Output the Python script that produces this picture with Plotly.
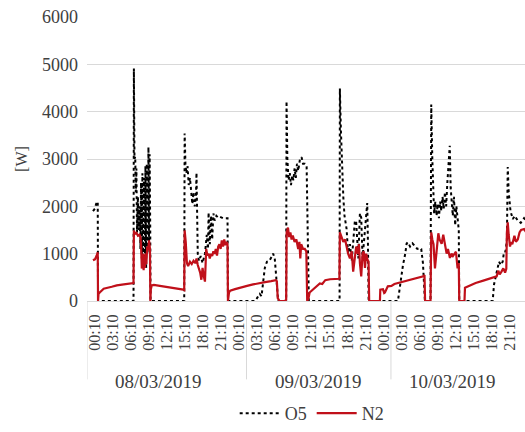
import plotly.graph_objects as go

# ---- data (hours since 08/03/2019 00:00, power in W) ----
n2_time = [-0.12, 0.2, 0.5, 0.67, 0.72, 0.8, 1.0, 1.66, 3.0, 3.83, 5.0, 6.32, 6.62, 6.68, 6.85, 7.1, 7.35, 7.6, 7.77, 7.87,
           8.0, 8.1, 8.2, 8.3, 8.4, 8.5, 8.6, 8.75, 8.9, 9.05, 9.2, 9.35, 9.42, 9.5, 9.65, 10.0, 11.0, 12.0, 13.0, 14.0,
           14.9, 15.05, 15.12, 15.3, 15.5, 15.7, 16.0, 16.3, 16.6, 16.9, 17.1, 17.3, 17.5, 17.7, 17.9, 18.1, 18.3, 18.5,
           18.7, 18.9, 19.1, 19.3, 19.5, 19.7, 19.9, 20.1, 20.3, 20.5, 20.7, 20.9, 21.1, 21.3, 21.5, 21.7, 21.9, 22.1,
           22.25, 22.32, 22.5, 22.7, 23.5, 24.5, 25.5, 26.5, 27.5, 28.5, 29.5, 30.3, 30.45, 30.6, 30.9, 31.8, 32.0, 32.08,
           32.3, 32.5, 32.7, 32.9, 33.1, 33.4, 33.7, 34.0, 34.2, 34.35, 34.5, 34.8, 35.1, 35.35, 35.5, 35.7, 35.9, 36.5,
           37.0, 37.6, 38.0, 38.5, 39.3, 40.0, 40.6, 40.85, 40.93, 41.2, 41.5, 41.8, 42.05, 42.3, 42.6, 42.9, 43.14, 43.4,
           43.64, 43.9, 44.1, 44.26, 44.48, 44.7, 44.9, 45.1, 45.3, 45.5, 45.7, 45.8, 47.59, 47.65, 48.09, 48.3, 48.42,
           48.9, 49.5, 50.0, 51.0, 52.0, 53.0, 54.0, 54.8, 55.0, 55.1, 56.0, 56.12, 56.3, 56.5, 56.74, 57.0, 57.3, 57.5,
           57.85, 58.12, 58.4, 58.68, 58.9, 59.23, 59.5, 59.73, 60.0, 60.23, 60.5, 60.7, 60.78, 61.65, 61.73, 62.56, 63.5,
           64.78, 66.0, 66.72, 67.0, 67.27, 67.5, 67.8, 68.1, 68.4, 68.6, 68.7, 68.84, 69.0, 69.22, 69.39, 69.6, 69.95,
           70.2, 70.51, 70.8, 71.06, 71.56, 71.9]
n2_watts = [860, 880, 960, 1030, 0, 150, 180, 260, 300, 330, 350, 370, 380, 1490, 1420, 1440, 1380, 1400, 1350, 1200,
            690, 720, 1000, 650, 900, 700, 1000, 780, 1150, 1070, 1280, 1100, 0, 250, 330, 340, 320, 300, 290, 270,
            240, 230, 1490, 1250, 800, 740, 830, 780, 850, 800, 900, 760, 700, 600, 450, 700, 520, 410,
            1100, 960, 1000, 900, 1000, 950, 1050, 1000, 1100, 960, 1150, 1200, 1100, 1280, 1150, 1300, 1180, 1250,
            1200, 0, 180, 220, 250, 290, 320, 350, 380, 400, 420, 440, 420, 60, 0, 0, 30, 1450,
            1550, 1350, 1450, 1300, 1380, 1250, 1300, 1100, 1250, 900, 1200, 1100, 1100, 1050, 0, 50, 180, 250,
            300, 370, 360, 440, 460, 470, 480, 470, 1450, 1350, 1250, 1300, 1150, 1000, 900, 1050, 620, 900,
            1150, 1000, 1200, 800, 520, 1000, 1050, 700, 1000, 880, 830, 0, 0, 240, 250, 170, 180,
            310, 320, 360, 390, 420, 450, 480, 520, 550, 0, 0, 1450, 1300, 1200, 690, 1000, 1430, 1300,
            1210, 1400, 1150, 1000, 1100, 910, 1000, 950, 1000, 1040, 690, 800, 0, 0, 280, 330, 380,
            430, 480, 500, 520, 640, 560, 620, 690, 600, 680, 1450, 1660, 1400, 1150, 1245, 1200, 1380,
            1250, 1300, 1450, 1500, 1520, 1450]

o5_time = [-0.12, 0.2, 0.4, 0.67, 0.72, 6.62, 6.68, 6.78, 6.9, 7.0, 7.1, 7.2, 7.35, 7.5, 7.6, 7.77, 7.87, 8.0, 8.1, 8.2,
           8.35, 8.5, 8.6, 8.72, 8.82, 8.95, 9.1, 9.2, 9.3, 9.4, 9.45, 15.05, 15.12, 15.25, 15.4, 15.6, 15.8, 16.0, 16.2,
           16.4, 16.6, 16.8, 17.0, 17.09, 17.3, 17.5, 17.8, 18.1, 18.5, 18.8, 19.0, 19.1, 19.3, 19.5, 19.7, 19.9, 20.1,
           20.4, 20.7, 21.0, 21.5, 22.0, 22.25, 22.32, 26.8, 27.1, 27.6, 27.9, 28.2, 28.45, 28.8, 29.2, 29.57, 29.83,
           30.1, 30.4, 30.67, 32.0, 32.06, 32.2, 32.4, 32.6, 32.8, 33.0, 33.2, 33.4, 33.6, 33.8, 34.0, 34.3, 34.56, 34.8,
           35.1, 35.4, 35.66, 35.77, 40.88, 40.93, 41.1, 41.3, 41.5, 41.7, 41.9, 42.05, 42.3, 42.6, 42.9, 43.2, 43.43,
           43.64, 43.9, 44.0, 44.26, 44.48, 44.7, 44.9, 45.1, 45.3, 45.48, 45.6, 45.71, 50.58, 50.9, 51.41, 51.8, 52.03,
           52.25, 52.6, 53.0, 53.41, 53.8, 54.2, 54.46, 54.74, 55.07, 56.0, 56.12, 56.3, 56.45, 56.6, 56.8, 57.0, 57.2,
           57.4, 57.6, 57.8, 58.0, 58.2, 58.4, 58.6, 58.8, 59.0, 59.2, 59.35, 59.5, 59.7, 59.9, 60.1, 60.3, 60.5, 60.7,
           60.78, 66.34, 66.56, 66.8, 67.1, 67.39, 67.7, 68.0, 68.22, 68.5, 68.7, 68.84, 69.0, 69.3, 69.68, 70.0, 70.5,
           71.0, 71.56, 71.9]
o5_watts = [1900, 1950, 2050, 2100, 0, 0, 4910, 3000, 3050, 2300, 2800, 1450, 2200, 1500, 2000, 1100, 2500, 900, 2700, 700,
            2600, 800, 2850, 700, 2900, 1000, 3250, 1100, 3100, 1500, 0, 0, 3540, 2900, 2700, 2850, 2450, 2600, 2200,
            2050, 2300, 2000, 2200, 2710, 1000, 850, 950, 800, 1000, 1400, 1100, 1870, 1200, 1800, 1300, 1850, 1700,
            1800, 1760, 1780, 1750, 1760, 1750, 0, 0, 50, 150, 100, 400, 700, 830, 850, 930, 1000,
            900, 420, 0, 0, 4220, 3000, 2550, 2700, 2450, 2650, 2550, 2800, 2600, 2900, 2750, 3000, 3040, 2900,
            2900, 2850, 900, 0, 0, 4490, 3600, 2800, 2200, 1800, 1600, 1520, 1000, 1200, 850, 1300, 1700,
            1660, 1000, 900, 1850, 1760, 900, 1200, 1500, 1800, 2070, 1200, 0, 0, 300, 750, 1000, 1215,
            1240, 1150, 1220, 1150, 1100, 1120, 1100, 800, 0, 0, 4150, 3000, 2200, 1850, 2100, 1800, 2050,
            1750, 2100, 1900, 2200, 1950, 2300, 2000, 2500, 2800, 3280, 2400, 2100, 1800, 2200, 1600, 2000, 1700, 1500,
            0, 0, 350, 500, 700, 830, 760, 830, 1040, 1050, 1300, 2830, 2300, 1900, 1730, 1800, 1700,
            1650, 1750, 1700]

tick_labels = ["00:10", "03:10", "06:10", "09:10", "12:10", "15:10", "18:10", "21:10",
               "00:10", "03:10", "06:10", "09:10", "12:10", "15:10", "18:10", "21:10",
               "00:10", "03:10", "06:10", "09:10", "12:10", "15:10", "18:10", "21:10"]
tick_hours = [0.1667 + 3 * k for k in range(len(tick_labels))]

day_labels = ["08/03/2019", "09/03/2019", "10/03/2019"]
day_label_hours = [10.8, 37.4, 59.7]
day_boundaries = [-1.115, 25.41, 49.42]

X_RANGE = [-1.115, 71.71]
FONT = "Liberation Serif"
TXT = "#404040"
GRID = "#d9d9d9"

fig = go.Figure()
fig.add_trace(go.Scatter(x=o5_time, y=o5_watts, mode="lines", name="O5",
                         line=dict(color="#000000", width=2, dash="dot")))
fig.add_trace(go.Scatter(x=n2_time, y=n2_watts, mode="lines", name="N2",
                         line=dict(color="#c0101a", width=2.2)))

for b in day_boundaries:
    fig.add_shape(type="line", xref="x", yref="paper", x0=b, x1=b, y0=0, y1=-0.276,
                  line=dict(color=GRID, width=1))

for lab, h in zip(day_labels, day_label_hours):
    fig.add_annotation(x=h, y=-0.284, xref="x", yref="paper", text=lab, showarrow=False,
                       font=dict(family=FONT, size=19, color=TXT), xanchor="center", yanchor="middle")

fig.update_layout(
    width=525, height=432,
    margin=dict(l=87, r=0, t=17, b=125),
    paper_bgcolor="white", plot_bgcolor="white",
    font=dict(family=FONT, color=TXT, size=18),
    showlegend=True,
    legend=dict(orientation="h", x=0.513, xanchor="center", y=-0.397, yanchor="middle",
                font=dict(family=FONT, size=18, color=TXT), bgcolor="rgba(0,0,0,0)",
                itemwidth=40),
    xaxis=dict(range=X_RANGE, tickmode="array", tickvals=tick_hours, ticktext=tick_labels,
               tickangle=-90, tickfont=dict(family=FONT, size=16, color=TXT),
               showgrid=False, zeroline=False, showline=True, linecolor=GRID, linewidth=1,
               ticks="", ticklabelstandoff=6),
    yaxis=dict(range=[0, 6000], tickvals=[0, 1000, 2000, 3000, 4000, 5000, 6000],
               tickfont=dict(family=FONT, size=18, color=TXT), showgrid=True, gridcolor=GRID,
               gridwidth=1, zeroline=False, ticks="", ticklabelstandoff=8,
               title=dict(text="[W]", font=dict(family=FONT, size=16, color=TXT), standoff=10)),
)

fig.write_html("out.html", config={"displayModeBar": False},
               post_script="document.body.style.margin='0';")
